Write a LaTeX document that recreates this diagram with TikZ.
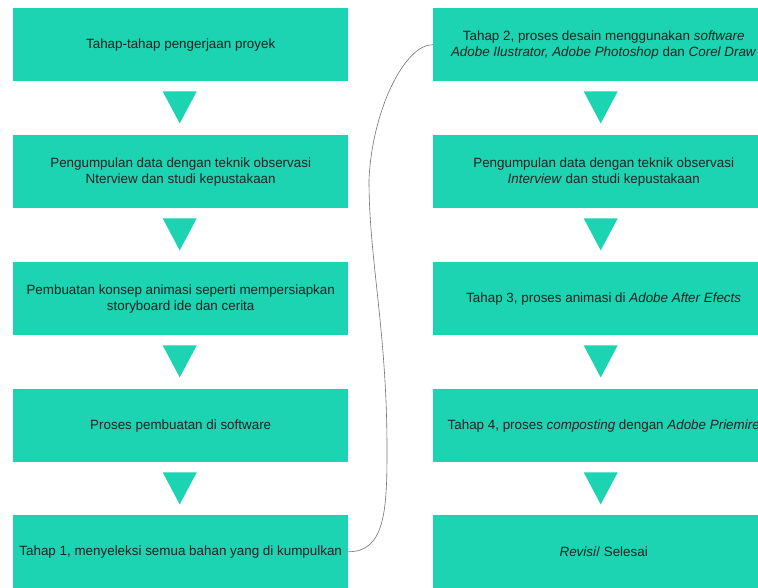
\documentclass[tikz,border=0pt]{standalone}
\usepackage{fontspec}
\setmainfont{Liberation Sans}
\definecolor{teal1}{RGB}{28,211,178}
\definecolor{txt}{RGB}{30,34,34}
\begin{document}
\begin{tikzpicture}[x=1pt,y=-1pt,
  box/.style={fill=teal1,draw=none,minimum width=335pt,minimum height=73pt,anchor=north west,
    inner sep=0pt,align=center,text=txt,font=\fontsize{13.4}{16}\selectfont},
  rbox/.style={box,minimum width=341pt},
  tri/.style={fill=teal1,draw=none},
  link/.style={draw=black!55,line width=0.6pt}]
\useasboundingbox (0,0) rectangle (758,587);
\clip (0,0) rectangle (758,587);
\fill[white] (0,0) rectangle (758,587);
% left column
\node[box] (l1) at (13,8) {Tahap-tahap pengerjaan proyek};
\node[box] (l2) at (13,135) {Pengumpulan data dengan teknik observasi\\Nterview dan studi kepustakaan};
\node[box] (l3) at (13,262) {Pembuatan konsep animasi seperti mempersiapkan\\storyboard ide dan cerita};
\node[box] (l4) at (13,389) {Proses pembuatan di software};
\node[box] (l5) at (13,515) {Tahap 1, menyeleksi semua bahan yang di kumpulkan};
% right column
\node[rbox] (r1) at (433,8) {Tahap 2, proses desain menggunakan \textit{software}\\\textit{Adobe Ilustrator, Adobe Photoshop} dan \textit{Corel Draw}};
\node[rbox] (r2) at (433,135) {Pengumpulan data dengan teknik observasi\\\textit{Interview} dan studi kepustakaan};
\node[rbox] (r3) at (433,262) {Tahap 3, proses animasi di \textit{Adobe After Efects}};
\node[rbox] (r4) at (433,389) {Tahap 4, proses \textit{composting} dengan \textit{Adobe Priemire}};
\node[rbox] (r5) at (433,515) {\textit{Revisi}/ Selesai};
% triangles
\foreach \n in {l1,l2,l3,l4}{
  \fill[tri] ([xshift=-18pt,yshift=-10pt]\n.south) -- ([xshift=16pt,yshift=-10pt]\n.south)
     -- ([xshift=-1pt,yshift=-42pt]\n.south) -- cycle;
}
\foreach \n in {r1,r2,r3,r4}{
  \fill[tri] ([xshift=-20pt,yshift=-10pt]\n.south) -- ([xshift=14pt,yshift=-10pt]\n.south)
     -- ([xshift=-3pt,yshift=-42pt]\n.south) -- cycle;
}
% connector
\draw[link] (l5.east) .. controls (385,552) and (387,510) .. (387,450)
  .. controls (387,330) and (369,260) .. (369,180)
  .. controls (372,110) and (405,44) .. (r1.west);
\end{tikzpicture}
\end{document}
